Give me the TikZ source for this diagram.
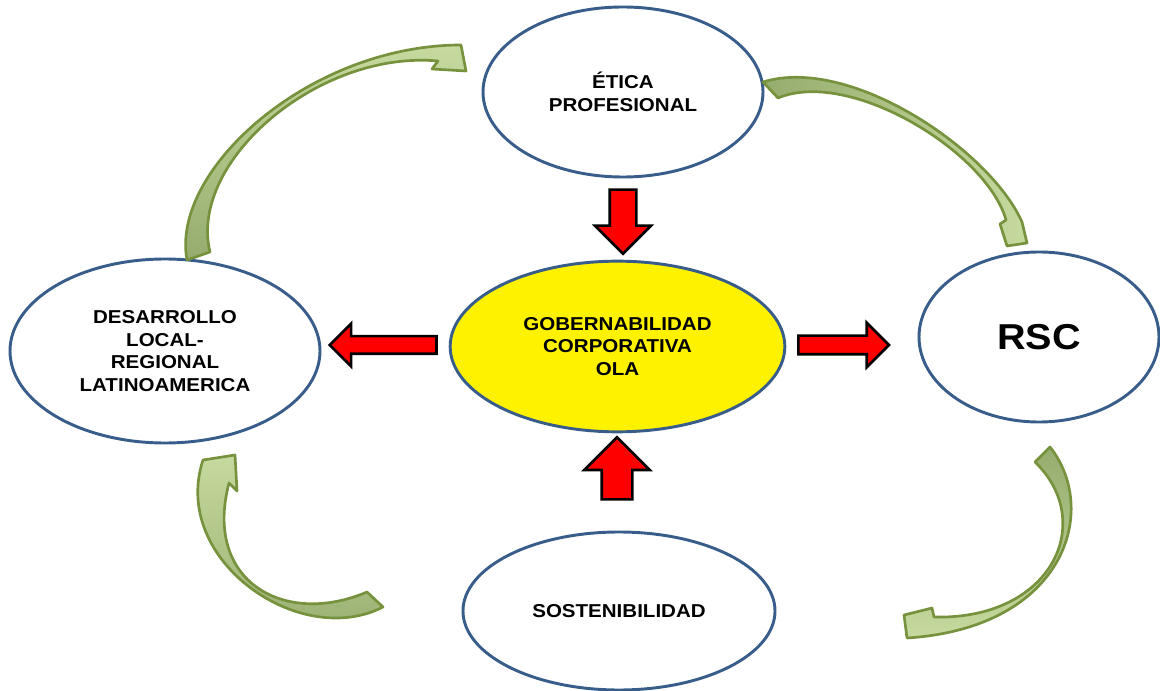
\documentclass[tikz,border=0pt]{standalone}
\usepackage{fontspec}
\setmainfont{Liberation Sans}[FakeStretch=1.1]
\usetikzlibrary{shapes.geometric,shapes.arrows}

\definecolor{ovalblue}{RGB}{56,93,138}
\definecolor{arrowred}{RGB}{255,0,0}
\definecolor{leafline}{RGB}{118,146,60}
\definecolor{leaflight}{RGB}{198,217,158}
\definecolor{leafdark}{RGB}{150,172,110}

\tikzset{
  oval/.style={ellipse, draw=ovalblue, line width=2.2pt, inner sep=0pt, align=center,
    font=\fontsize{14}{17}\selectfont\bfseries},
  redarrow/.style={single arrow, draw=black, fill=arrowred, line width=2pt,
    inner sep=0pt, text depth=0pt},
  leafarrow/.style={draw=leafline, line width=2pt, line join=round},
}

\begin{document}
\begin{tikzpicture}[x=0.75pt,y=0.75pt,yscale=-1,xscale=1]
\useasboundingbox (0,0) rectangle (1160,691);

%Shape: Ellipse [gober]
\node[oval, fill=yellow, minimum width=251pt, minimum height=128pt] (gober) at (617.5,346.5) {GOBERNABILIDAD\\CORPORATIVA\\OLA};
%Shape: Ellipse [etica]
\node[oval, minimum width=210pt, minimum height=127.5pt] (etica) at (623,92) {ÉTICA\\PROFESIONAL};
%Shape: Ellipse [desarrollo]
\node[oval, minimum width=232.5pt, minimum height=138pt] (desarrollo) at (165,351) {DESARROLLO\\LOCAL-\\REGIONAL\\LATINOAMERICA};
%Shape: Ellipse [rsc]
\node[oval, minimum width=180pt, minimum height=127.5pt, font=\fontsize{27}{30}\selectfont\bfseries] (rsc) at (1039,337) {RSC};
%Shape: Ellipse [sosten]
\node[oval, minimum width=234pt, minimum height=118.5pt] (sosten) at (619,611) {SOSTENIBILIDAD};

%Block Arrows
\node[redarrow, minimum height=48pt, minimum width=40pt, text height=18pt, single arrow head extend=11pt, rotate=-90] (todown) at (623,215) {};
\node[redarrow, minimum height=80pt, minimum width=30pt, text height=11.25pt, single arrow head extend=9.4pt, rotate=180] (toleft) at (387.5,345) {};
\node[redarrow, minimum height=68pt, minimum width=31.5pt, text height=12pt, single arrow head extend=9.75pt] (toright) at (839,345) {};
\node[redarrow, minimum height=46.5pt, minimum width=47pt, text height=21pt, single arrow head extend=13pt, rotate=90] (toup) at (617,476) {};

%Curved Arrow [desarrollo to etica]
\shade[leafarrow, top color=leaflight, bottom color=leafdark] (187,260) .. controls (170,170) and (310,45) .. (461,45) -- (466,71) -- (432,69) -- (438,61) .. controls (318,50) and (188,162) .. (210,252) -- cycle ;
%Curved Arrow [etica to rsc]
\shade[leafarrow, left color=leafdark, right color=leaflight] (763,82) .. controls (850,55) and (990,150) .. (1022,222) -- (1027,243) -- (1007,246) -- (1000,224) -- (1006,220) .. controls (987,152) and (850,68) .. (778,98) -- cycle ;
%Curved Arrow [rsc to sosten]
\shade[leafarrow, top color=leafdark, bottom color=leaflight] (1050,447) .. controls (1100,510) and (1065,628) .. (907,638) -- (904,615) -- (932,608) -- (934,617) .. controls (1052,620) and (1097,522) .. (1035,462) -- cycle ;
%Curved Arrow [sosten to desarrollo]
\shade[leafarrow, top color=leaflight, bottom color=leafdark] (383,607) .. controls (300,650) and (170,560) .. (203,460) -- (235,455) -- (237,491) -- (229,483) .. controls (203,582) and (285,627) .. (367,592) -- cycle ;

\end{tikzpicture}
\end{document}
